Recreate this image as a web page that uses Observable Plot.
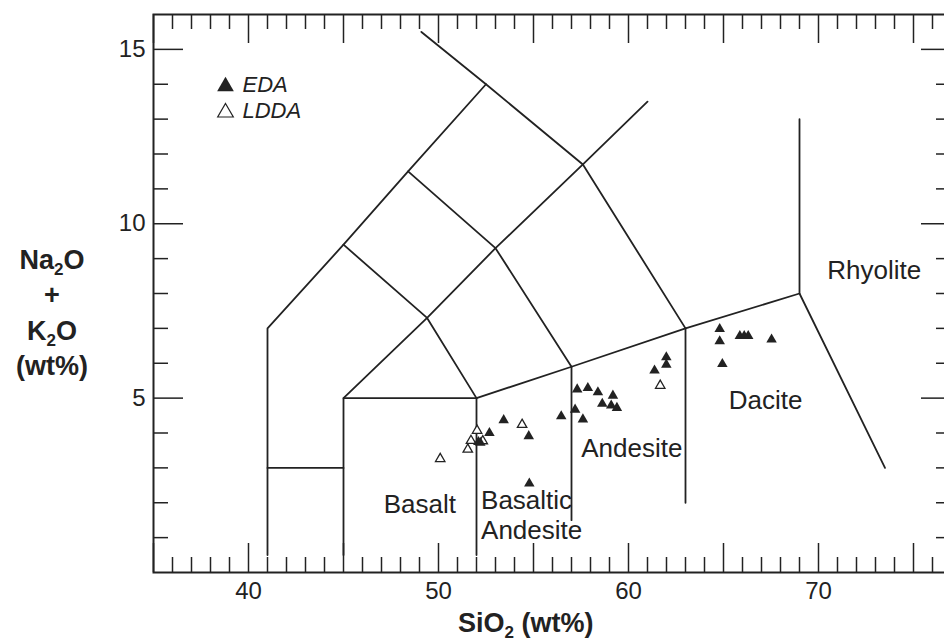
<!DOCTYPE html>
<html><head><meta charset="utf-8">
<script src="https://cdn.jsdelivr.net/npm/d3@7"></script>
<script src="https://cdn.jsdelivr.net/npm/@observablehq/plot@0.6"></script>
<style>
body{margin:0;background:#fff;overflow:hidden}
#chart{width:944px;height:644px;overflow:hidden}
</style>
</head><body><div id="chart"></div>
<script>
// EDA (filled triangles)
const edaSiO2 = [64.80, 64.80, 65.86, 66.09, 66.30, 67.53, 64.94, 61.99, 61.99, 61.37,
                 57.30, 57.86, 58.39, 59.18, 58.62, 59.09, 59.39, 57.19, 57.60, 56.46,
                 53.43, 54.75, 52.68, 52.10, 52.20, 54.78];
const edaAlk  = [6.98, 6.63, 6.78, 6.78, 6.78, 6.68, 5.98, 6.17, 5.96, 5.79,
                 5.25, 5.29, 5.17, 5.07, 4.84, 4.79, 4.72, 4.67, 4.39, 4.48,
                 4.37, 3.91, 4.00, 3.74, 3.72, 2.55];
// LDDA (open triangles)
const lddaSiO2 = [54.40, 52.03, 51.71, 52.33, 51.54, 50.09, 61.67];
const lddaAlk  = [4.24, 4.07, 3.78, 3.77, 3.53, 3.26, 5.36];

// TAS field boundaries
const boundaries = [
  [[41,0.5],[41,7],[45,9.4],[48.4,11.5],[52.5,14],[49.1,15.5]],
  [[41,3],[45,3]],
  [[45,0.5],[45,5],[52,5],[57,5.9],[63,7],[69,8],[69,13]],
  [[69,8],[73.5,3]],
  [[52,0.5],[52,5]],
  [[57,1.5],[57,5.9]],
  [[63,2],[63,7]],
  [[45,5],[49.4,7.3],[52,5]],
  [[45,9.4],[49.4,7.3],[53,9.3],[57.6,11.7],[61,13.5]],
  [[48.4,11.5],[53,9.3],[57,5.9]],
  [[52.5,14],[57.6,11.7],[63,7]]
];

const fieldNames = ["Basalt", "Basaltic", "Andesite", "Andesite", "Dacite", "Rhyolite"];
const fieldLabelSiO2 = [47.12, 52.24, 52.24, 57.51, 65.28, 70.46];
const fieldLabelAlk  = [1.72, 1.83, 0.95, 3.30, 4.69, 8.43];

const xTickLabels = [40, 50, 60, 70];
const yTickLabels = [5, 10, 15];
const legendNames = ["EDA", "LDDA"];

const W = 944, H = 644, mL = 153, mT = 14, mB = 72, mR = -7;
const frameH = H - mT - mB;
const frameW = W - mL - mR;
const ink = "#222";

const minorX = d3.range(36, 77).filter(v => v % 5 !== 0);
const majorX = d3.range(35, 78, 5);
const minorY = d3.range(1, 16).filter(v => v % 5 !== 0);
const majorY = [5, 10, 15];

const seg = boundaries.map(s => Plot.line(s, {x: d => d[0], y: d => d[1], stroke: ink, strokeWidth: 1.8}));

const plot = Plot.plot({
  width: W, height: H,
  marginLeft: mL, marginTop: mT, marginBottom: mB, marginRight: mR,
  x: {domain: [35, 77], range: [mL, W - mR]},
  y: {domain: [0, 16], range: [H - mB, mT]},
  style: {fontFamily: "'Liberation Sans', Arial, Helvetica, sans-serif", color: ink, background: "#fff"},
  marks: [
    // inward ticks
    Plot.tickX(minorX, {x: d => d, insetTop: frameH - 15, stroke: ink, strokeWidth: 1.5}),
    Plot.tickX(minorX, {x: d => d, insetBottom: frameH - 15, stroke: ink, strokeWidth: 1.5}),
    Plot.tickX(majorX, {x: d => d, insetTop: frameH - 29, stroke: ink, strokeWidth: 1.5}),
    Plot.tickX(majorX, {x: d => d, insetBottom: frameH - 29, stroke: ink, strokeWidth: 1.5}),
    Plot.tickY(minorY, {y: d => d, insetRight: frameW - 15, stroke: ink, strokeWidth: 1.5}),
    Plot.tickY(minorY, {y: d => d, insetLeft: frameW - 15, stroke: ink, strokeWidth: 1.5}),
    Plot.tickY(majorY, {y: d => d, insetRight: frameW - 30, stroke: ink, strokeWidth: 1.5}),
    Plot.tickY(majorY, {y: d => d, insetLeft: frameW - 30, stroke: ink, strokeWidth: 1.5}),
    Plot.frame({stroke: ink, strokeWidth: 2}),
    Plot.axisX(xTickLabels, {tickSize: 0, tickPadding: 9, fontSize: 24, label: null}),
    Plot.axisY(yTickLabels, {tickSize: 0, tickPadding: 8, fontSize: 24, label: null}),
    ...seg,
    Plot.text(d3.range(fieldNames.length), {
      x: i => fieldLabelSiO2[i], y: i => fieldLabelAlk[i], text: i => fieldNames[i],
      textAnchor: "start", lineAnchor: "bottom", fontSize: 26, fill: ink
    }),
    Plot.dot(d3.range(lddaSiO2.length), {
      x: i => lddaSiO2[i], y: i => lddaAlk[i], symbol: "triangle",
      fill: "#fff", stroke: ink, strokeWidth: 1.3, r: 3.5
    }),
    Plot.dot(d3.range(edaSiO2.length), {
      x: i => edaSiO2[i], y: i => edaAlk[i], symbol: "triangle", fill: ink, r: 3.9
    }),
    // legend
    Plot.dot([legendNames[0]], {frameAnchor: "top-left", dx: 72, dy: 72, symbol: "triangle", fill: ink, r: 6.2}),
    Plot.dot([legendNames[1]], {frameAnchor: "top-left", dx: 72, dy: 98, symbol: "triangle", fill: "#fff", stroke: ink, strokeWidth: 1.2, r: 5.8}),
    Plot.text([legendNames[0]], {text: d => d, frameAnchor: "top-left", dx: 89, dy: 77, textAnchor: "start", lineAnchor: "bottom", fontSize: 22, fontStyle: "italic", fill: ink}),
    Plot.text([legendNames[1]], {text: d => d, frameAnchor: "top-left", dx: 89, dy: 103, textAnchor: "start", lineAnchor: "bottom", fontSize: 22, fontStyle: "italic", fill: ink})
  ]
});

document.getElementById("chart").appendChild(plot);

// axis titles with subscripts
const svg = d3.select(plot);
const ff = "'Liberation Sans', Arial, Helvetica, sans-serif";
function subText(g, x, y, parts, anchor) {
  const t = g.append("text").attr("x", x).attr("y", y)
    .attr("text-anchor", anchor).attr("font-family", ff).attr("font-weight", "bold")
    .attr("font-size", 27).attr("fill", ink);
  let lowered = false;
  parts.forEach(([s, sub]) => {
    if (sub) { t.append("tspan").attr("font-size", 17).attr("dy", 6).text(s); lowered = true; }
    else { t.append("tspan").attr("font-size", 27).attr("dy", lowered ? -6 : 0).text(s); lowered = false; }
  });
  return t;
}
const g = svg.append("g");
subText(g, 458, 632, [["SiO"], ["2", true], [" (wt%)"]], "start");
subText(g, 52, 269, [["Na"], ["2", true], ["O"]], "middle");
subText(g, 52, 304, [["+"]], "middle");
subText(g, 52, 340, [["K"], ["2", true], ["O"]], "middle");
subText(g, 52, 375, [["(wt%)"]], "middle");
</script>
</body></html>
